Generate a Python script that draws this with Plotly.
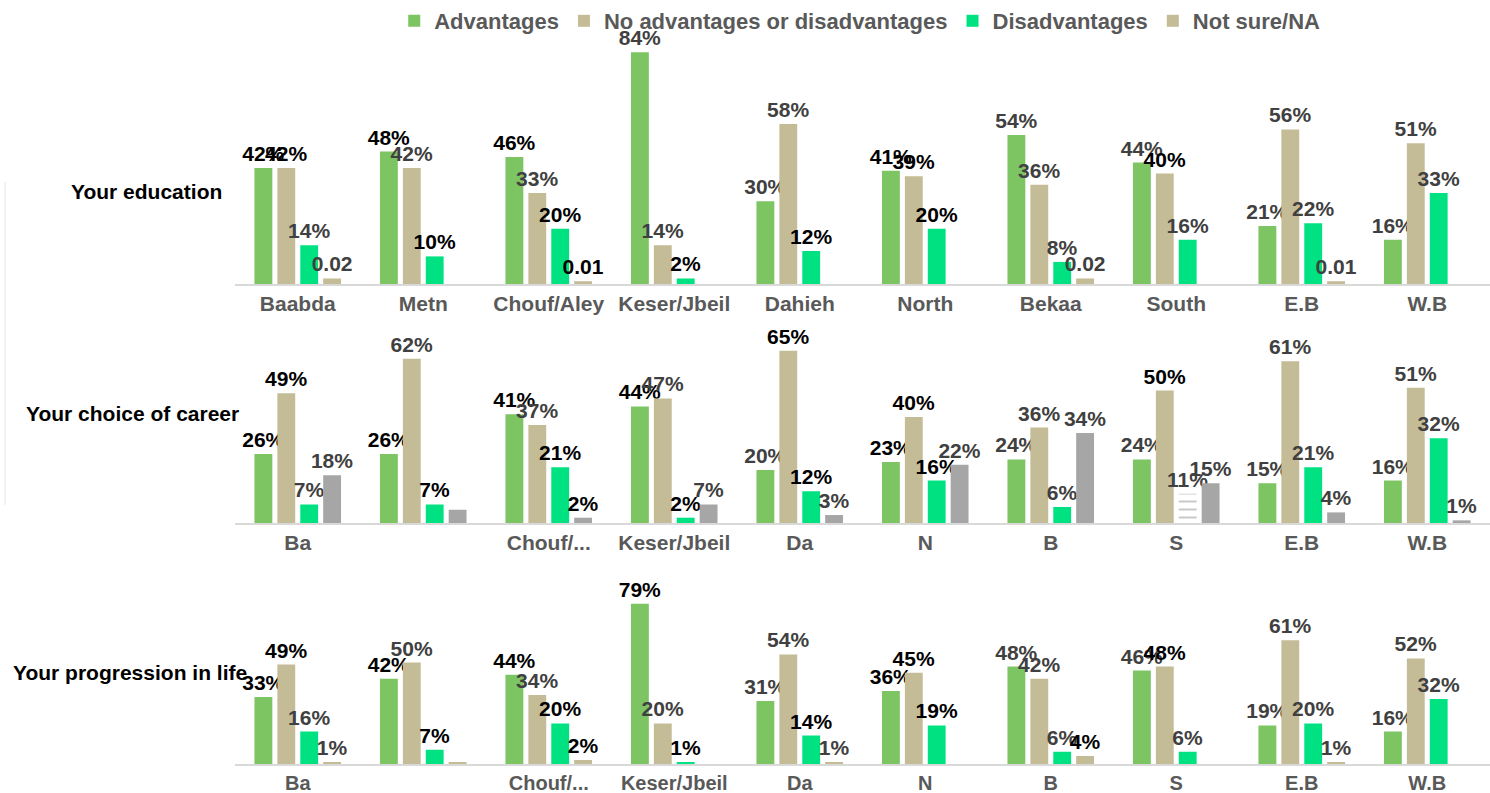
import plotly.graph_objects as go

# ---------------- data ----------------
categories = ["Baabda", "Metn", "Chouf/Aley", "Keser/Jbeil", "Dahieh",
              "North", "Bekaa", "South", "E.B", "W.B"]
ticks_edu = ["Baabda", "Metn", "Chouf/Aley", "Keser/Jbeil", "Dahieh",
             "North", "Bekaa", "South", "E.B", "W.B"]
ticks_other = ["Ba", "", "Chouf/...", "Keser/Jbeil", "Da", "N", "B", "S", "E.B", "W.B"]
series = ["Advantages", "No advantages or disadvantages", "Disadvantages", "Not sure/NA"]
row_titles = ["Your education", "Your choice of career", "Your progression in life"]

# Your education
edu_adv = [42, 48, 46, 84, 30, 41, 54, 44, 21, 16]
edu_none = [42, 42, 33, 14, 58, 39, 36, 40, 56, 51]
edu_dis = [14, 10, 20, 2, 12, 20, 8, 16, 22, 33]
edu_ns = [2, 0, 1, 0, 0, 0, 2, 0, 1, 0]
edu_adv_lbl = ["42%", "48%", "46%", "84%", "30%", "41%", "54%", "44%", "21%", "16%"]
edu_none_lbl = ["42%", "42%", "33%", "14%", "58%", "39%", "36%", "40%", "56%", "51%"]
edu_dis_lbl = ["14%", "10%", "20%", "2%", "12%", "20%", "8%", "16%", "22%", "33%"]
edu_ns_lbl = ["0.02", "", "0.01", "", "", "", "0.02", "", "0.01", ""]

# Your choice of career
car_adv = [26, 26, 41, 44, 20, 23, 24, 24, 15, 16]
car_none = [49, 62, 37, 47, 65, 40, 36, 50, 61, 51]
car_dis = [7, 7, 21, 2, 12, 16, 6, 11, 21, 32]
car_ns = [18, 5, 2, 7, 3, 22, 34, 15, 4, 1]
car_adv_lbl = ["26%", "26%", "41%", "44%", "20%", "23%", "24%", "24%", "15%", "16%"]
car_none_lbl = ["49%", "62%", "37%", "47%", "65%", "40%", "36%", "50%", "61%", "51%"]
car_dis_lbl = ["7%", "7%", "21%", "2%", "12%", "16%", "6%", "11%", "21%", "32%"]
car_ns_lbl = ["18%", "", "2%", "7%", "3%", "22%", "34%", "15%", "4%", "1%"]

# Your progression in life
pro_adv = [33, 42, 44, 79, 31, 36, 48, 46, 19, 16]
pro_none = [49, 50, 34, 20, 54, 45, 42, 48, 61, 52]
pro_dis = [16, 7, 20, 1, 14, 19, 6, 6, 20, 32]
pro_ns = [1, 1, 2, 0, 1, 0, 4, 0, 1, 0]
pro_adv_lbl = ["33%", "42%", "44%", "79%", "31%", "36%", "48%", "46%", "19%", "16%"]
pro_none_lbl = ["49%", "50%", "34%", "20%", "54%", "45%", "42%", "48%", "61%", "52%"]
pro_dis_lbl = ["16%", "7%", "20%", "1%", "14%", "19%", "6%", "6%", "20%", "32%"]
pro_ns_lbl = ["1%", "", "2%", "", "1%", "", "4%", "", "1%", ""]

# label colour keys per series (k = black, g = dark grey, - = no label)
edu_keys = ["kkkggkgggg", "kggggkgkgg", "gkkkkkgggg", "g-k---g-g-"]
car_keys = ["kkkkgkgggg", "kgggkkgkgg", "gkkkkkgggg", "g-kggggggg"]
pro_keys = ["kkkkgkgggg", "kggggkgkgg", "gkkkkkgggg", "g-k-g-k-g-"]

# ---------------- styling ----------------
C_ADV = "#7DC462"
C_NONE = "#C4BC96"
C_DIS = "#00E281"
C_GRAY = "#A6A6A6"
LBL = {"k": "#000000", "g": "#404040", "-": "#404040"}
FONT = "Liberation Sans, Arial, sans-serif"

rows = [
    dict(vals=[edu_adv, edu_none, edu_dis, edu_ns],
         lbls=[edu_adv_lbl, edu_none_lbl, edu_dis_lbl, edu_ns_lbl],
         keys=edu_keys, ns_color=C_NONE, ticks=ticks_edu, tsize=21,
         base_px=284, px_per=2.76, rmax=90),
    dict(vals=[car_adv, car_none, car_dis, car_ns],
         lbls=[car_adv_lbl, car_none_lbl, car_dis_lbl, car_ns_lbl],
         keys=car_keys, ns_color=C_GRAY, ticks=ticks_other, tsize=21,
         base_px=523, px_per=2.65, rmax=70),
    dict(vals=[pro_adv, pro_none, pro_dis, pro_ns],
         lbls=[pro_adv_lbl, pro_none_lbl, pro_dis_lbl, pro_ns_lbl],
         keys=pro_keys, ns_color=C_NONE, ticks=ticks_other, tsize=20,
         base_px=764, px_per=2.03, rmax=90),
]

W, H = 1490, 793
X0 = 235

fig = go.Figure()
layout = {}
for r, row in enumerate(rows):
    ax = "" if r == 0 else str(r + 1)
    colors = [C_ADV, C_NONE, C_DIS, row["ns_color"]]
    for s in range(4):
        tcols = [LBL[c] for c in row["keys"][s]]
        mcol = [colors[s]] * 10
        pshape = [""] * 10
        if r == 1 and s == 2:
            mcol[7] = "#FFFFFF"
            pshape[7] = "-"
        fig.add_trace(go.Bar(
            x=categories, y=row["vals"][s], name=series[s],
            xaxis="x" + ax, yaxis="y" + ax,
            marker=dict(color=mcol, line=dict(width=0),
                        pattern=dict(shape=pshape, fgcolor="#000000",
                                     size=8, solidity=0.15)),
            text=row["lbls"][s], textposition="outside",
            textfont=dict(color=tcols, family=FONT, size=21, weight="bold"),
            constraintext="none", cliponaxis=False,
            showlegend=(r == 0), legendgroup=series[s],
        ))
    bottom = H - row["base_px"]
    top = bottom + row["rmax"] * row["px_per"]
    layout["xaxis" + ax] = dict(
        domain=[X0 / W, 1.0], anchor="y" + ax, type="category",
        range=[-0.5, 9.5], tickmode="array", tickvals=categories, ticktext=row["ticks"],
        showline=True, linecolor="#D9D9D9", linewidth=2, ticks="",
        tickfont=dict(family=FONT, size=row["tsize"], color="#595959", weight="bold"),
        showgrid=False, zeroline=False, fixedrange=True, automargin=False,
    )
    layout["yaxis" + ax] = dict(
        domain=[bottom / H, top / H], anchor="x" + ax, range=[0, row["rmax"]],
        visible=False, showgrid=False, zeroline=False, fixedrange=True,
    )

annotations = []
title_pos = [(224, 192), (241, 413), (249, 672)]
for t, (xr, yc) in zip(row_titles, title_pos):
    annotations.append(dict(
        text=t, xref="paper", yref="paper", x=xr / W, y=1 - yc / H,
        xanchor="right", yanchor="middle", showarrow=False,
        font=dict(family=FONT, size=21, color="#000000", weight="bold"),
    ))

fig.update_layout(
    width=W, height=H, margin=dict(l=0, r=0, t=0, b=0, autoexpand=False),
    paper_bgcolor="#FFFFFF", plot_bgcolor="rgba(0,0,0,0)",
    barmode="group", bargap=0.27, bargroupgap=0.22,
    font=dict(family=FONT),
    legend=dict(orientation="h", x=0.577, xanchor="center", y=1.0, yanchor="top",
                font=dict(family=FONT, size=22, color="#595959", weight="bold"),
                itemwidth=30, traceorder="normal", bgcolor="rgba(0,0,0,0)"),
    annotations=annotations,
    shapes=[dict(type="line", xref="paper", yref="paper",
                 x0=5 / W, x1=5 / W, y0=1 - 505 / H, y1=1 - 182 / H,
                 line=dict(color="#E6E6E6", width=1))],
    **layout,
)

fig.write_html(
    "out.html",
    config={"displayModeBar": False},
    post_script="document.body.style.margin='0';document.body.style.overflow='hidden';",
)
